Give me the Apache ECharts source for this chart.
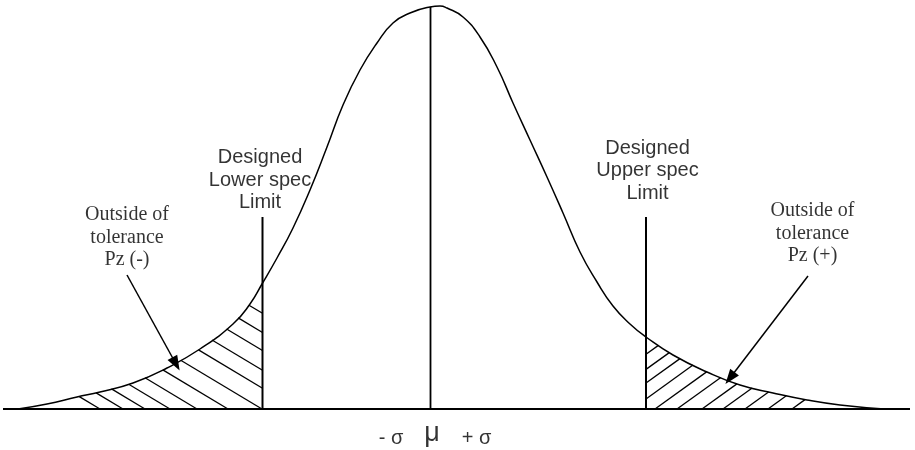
<!DOCTYPE html>
<html><head><meta charset="utf-8">
<script src="https://cdn.jsdelivr.net/npm/echarts@6/dist/echarts.min.js"></script>
<style>html,body{margin:0;padding:0;background:#fff}#c{width:915px;height:450px}</style>
</head><body><div id="c"></div>
<script>
// ---- data (x: horizontal position, h: height above the baseline) ----
const curveX = [18, 47, 77, 100, 133, 167, 200, 233, 250, 262, 277, 293, 310, 327, 343, 360, 377, 393, 410, 430, 440, 447, 463, 480, 497, 513, 530, 547, 563, 580, 597, 613, 630, 646, 673, 707, 740, 773, 807, 840, 884];
const curveH = [0, 5, 12, 17, 26, 41, 60, 85, 105, 125, 151, 181, 219, 262, 304, 339, 366, 386, 396, 402, 403, 401, 392, 372, 342, 306, 269, 232, 196, 157, 127, 103, 85, 72, 54, 37, 24, 16, 9, 4, 0];
const meanX = 430.5;
const meanTop = 402;
const lowerSpecX = 262.5;
const upperSpecX = 646;
const specTop = 192;
const baseFrom = 3, baseTo = 910;
const leftHatch = [100, 123, 145, 170, 197, 228, 262, 297, 327, 360, 390, 422];
const rightHatch = [570, 591, 610, 632, 655, 677, 702, 723, 745, 768, 792];
const leftSlope = 0.6, rightSlope = 0.72;
const arrowLeft = [[127, 134], [176, 45]];
const arrowRight = [[808, 133], [730, 31]];
const specText = ['Designed\nLower spec\nLimit', 'Designed\nUpper spec\nLimit'];
const tolText = ['Outside of\ntolerance\nPz (-)', 'Outside of\ntolerance\nPz (+)'];
const axisText = ['- σ', 'μ', '+ σ'];

function f(x) {
  const n = curveX.length;
  if (x <= curveX[0] || x >= curveX[n - 1]) return 0;
  for (let i = 1; i < n; i++) {
    if (x <= curveX[i]) {
      const t = (x - curveX[i - 1]) / (curveX[i] - curveX[i - 1]);
      return curveH[i - 1] + t * (curveH[i] - curveH[i - 1]);
    }
  }
  return 0;
}
function hatchRender(dir, slope, limit) {
  return function (params, api) {
    const c = api.value(0);
    const xs = dir > 0 ? Math.max(c, limit) : Math.min(c, limit);
    const hs = slope * dir * (xs - c);
    if (hs >= f(xs)) return null;
    let x = xs;
    for (let k = 0; k < 20000; k++) {
      const nx = x + dir * 0.1;
      if (slope * dir * (nx - c) >= f(nx)) break;
      x = nx;
    }
    const he = slope * dir * (x - c);
    const p1 = api.coord([xs, hs]), p2 = api.coord([x, he]);
    return { type: 'line', shape: { x1: p1[0], y1: p1[1], x2: p2[0], y2: p2[1] },
      style: { stroke: '#000', lineWidth: 1.3 } };
  };
}
const black = '#000';
function vline(x, top, w) {
  return { type: 'line', data: [[x, 0], [x, top]], symbol: 'none', silent: true,
    lineStyle: { color: black, width: w }, z: 3 };
}
const sans = 'Liberation Sans, Arial, sans-serif';
const serif = 'Liberation Serif, Times New Roman, serif';
const labelItems = [
  { value: [260, 229], label: { formatter: specText[0], fontFamily: sans, fontSize: 20, lineHeight: 22.5 } },
  { value: [647.5, 238.5], label: { formatter: specText[1], fontFamily: sans, fontSize: 20, lineHeight: 22.5 } },
  { value: [127, 171.5], label: { formatter: tolText[0], fontFamily: serif, fontSize: 20, lineHeight: 22.5 } },
  { value: [812.5, 175.5], label: { formatter: tolText[1], fontFamily: serif, fontSize: 20, lineHeight: 22.5 } },
  { value: [391, -29], label: { formatter: axisText[0], fontFamily: sans, fontSize: 20 } },
  { value: [432, -25], label: { formatter: axisText[1], fontFamily: sans, fontSize: 27 } },
  { value: [476.5, -29], label: { formatter: axisText[2], fontFamily: sans, fontSize: 20 } }
];

const chart = echarts.init(document.getElementById('c'), null, { renderer: 'canvas' });
chart.setOption({
  animation: false,
  backgroundColor: '#fff',
  grid: { left: 0, right: 0, top: 0, bottom: 0 },
  xAxis: { type: 'value', min: 0, max: 915, show: false },
  yAxis: { type: 'value', min: -41, max: 409, show: false },
  series: [
    { type: 'line', data: curveX.map((x, i) => [x, curveH[i]]), smooth: 0.5, symbol: 'none', silent: true,
      lineStyle: { color: black, width: 1.5 }, z: 3 },
    { type: 'line', data: [[baseFrom, 0], [baseTo, 0]], symbol: 'none', silent: true,
      lineStyle: { color: black, width: 2 }, z: 3,
      markLine: {
        silent: true, symbol: ['none', 'triangle'], symbolSize: [11, 15],
        label: { show: false },
        lineStyle: { color: black, width: 1.5, type: 'solid' },
        emphasis: { disabled: true },
        data: [
          [{ coord: arrowLeft[0] }, { coord: arrowLeft[1] }],
          [{ coord: arrowRight[0] }, { coord: arrowRight[1] }]
        ]
      } },
    vline(meanX, meanTop, 1.8),
    vline(lowerSpecX, specTop, 2),
    vline(upperSpecX, specTop, 2),
    { type: 'custom', data: leftHatch.map(c => [c, 0]), renderItem: hatchRender(-1, leftSlope, lowerSpecX), silent: true, clip: false, z: 2 },
    { type: 'custom', data: rightHatch.map(c => [c, 0]), renderItem: hatchRender(1, rightSlope, upperSpecX), silent: true, clip: false, z: 2 },
    { type: 'scatter', data: labelItems, symbolSize: 0, silent: true, clip: false, z: 5,
      label: { show: true, position: 'inside', color: black, align: 'center', verticalAlign: 'middle' } }
  ]
});
</script></body></html>
